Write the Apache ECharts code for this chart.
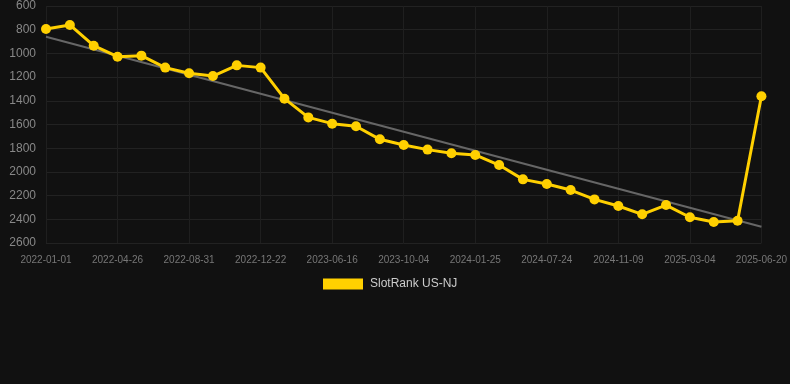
<!DOCTYPE html>
<html>
<head>
<meta charset="utf-8">
<script src="https://cdn.jsdelivr.net/npm/echarts@6/dist/echarts.min.js"></script>
<style>
html,body{margin:0;padding:0;background:#111111;}
#chart{width:790px;height:384px;}
</style>
</head>
<body>
<div id="chart"></div>
<script>
const categories = [
  '2022-01-01','2022-02-08','2022-03-19','2022-04-26','2022-06-06','2022-07-19',
  '2022-08-31','2022-10-10','2022-11-16','2022-12-22','2023-02-20','2023-04-19',
  '2023-06-16','2023-07-23','2023-08-28','2023-10-04','2023-11-12','2023-12-19',
  '2024-01-25','2024-03-24','2024-05-24','2024-07-24','2024-08-28','2024-10-04',
  '2024-11-09','2024-12-16','2025-01-24','2025-03-04','2025-04-10','2025-05-15',
  '2025-06-20'
];
const rankValues = [
  794, 760, 935, 1028, 1019, 1120, 1168, 1191, 1101, 1120, 1382, 1540,
  1593, 1615, 1725, 1773, 1812, 1843, 1857, 1942, 2063, 2102, 2153, 2232,
  2288, 2358, 2280, 2383, 2423, 2412, 1362
];
const trendStart = 859;
const trendEnd = 2463;
const yTicks = { min: 600, max: 2600, interval: 200 };
const seriesName = 'SlotRank US-NJ';

const trendData = categories.map((c, i) => i === 0 ? trendStart : (i === categories.length - 1 ? trendEnd : null));

const chart = echarts.init(document.getElementById('chart'), null, { renderer: 'canvas' });
chart.setOption({
  backgroundColor: '#111111',
  animation: false,
  grid: { left: 46, right: 28, top: 6, bottom: 141, containLabel: false },
  legend: {
    data: [seriesName],
    top: 273,
    left: 318,
    itemWidth: 40,
    itemHeight: 11,
    itemGap: 10,
    icon: 'rect',
    textStyle: { color: '#cccccc', fontSize: 12, padding: [0, 0, 0, 2], fontFamily: 'Arial, Liberation Sans, sans-serif' }
  },
  xAxis: {
    type: 'category',
    data: categories,
    boundaryGap: false,
    axisLine: { show: false },
    axisTick: { show: false },
    axisLabel: { interval: 2, color: '#777777', fontSize: 10, margin: 12, fontFamily: 'Arial, Liberation Sans, sans-serif' },
    splitLine: { show: true, interval: 2, lineStyle: { color: '#1f1f1f', width: 1 } }
  },
  yAxis: {
    type: 'value',
    inverse: true,
    min: yTicks.min,
    max: yTicks.max,
    interval: yTicks.interval,
    axisLine: { show: false },
    axisTick: { show: false },
    axisLabel: { color: '#888888', fontSize: 12, margin: 10, formatter: v => String(v), fontFamily: 'Arial, Liberation Sans, sans-serif' },
    splitLine: { show: true, lineStyle: { color: '#222222', width: 1 } }
  },
  series: [
    {
      name: 'trend',
      type: 'line',
      data: trendData,
      connectNulls: true,
      symbol: 'none',
      lineStyle: { color: '#666666', width: 2 },
      z: 1,
      silent: true
    },
    {
      name: seriesName,
      type: 'line',
      data: rankValues,
      symbol: 'circle',
      symbolSize: 10,
      itemStyle: { color: '#FFD000' },
      lineStyle: { color: '#FFD000', width: 3 },
      z: 2
    }
  ]
});
</script>
</body>
</html>
